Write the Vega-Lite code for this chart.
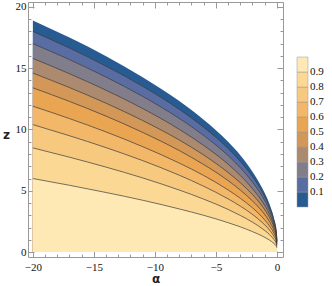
{
  "$schema": "https://vega.github.io/schema/vega-lite/v6.json",
  "width": 255,
  "height": 255,
  "autosize": "none",
  "padding": {"left": 28, "top": 2, "right": 49, "bottom": 29},
  "background": "white",
  "config": {
    "view": {"stroke": "#999999", "strokeWidth": 1},
    "axis": {"domain": false, "grid": false, "labelFont": "Liberation Serif", "labelFontSize": 11, "labelColor": "#111111", "tickColor": "#999999", "titleFont": "DejaVu Sans", "titleFontSize": 12, "titleFontWeight": "bold", "titleColor": "#222222"}
  },
  "resolve": {"axis": {"x": "independent", "y": "independent"}},
  "data": {"values": [
    {"a":-20,"k":0,"z":18.9},{"a":-17,"k":0,"z":17.5},{"a":-14,"k":0,"z":15.98},{"a":-11,"k":0,"z":14.27},{"a":-8,"k":0,"z":12.32},{"a":-6,"k":0,"z":10.8},{"a":-4,"k":0,"z":9.0},{"a":-3,"k":0,"z":7.9},{"a":-2,"k":0,"z":6.55},{"a":-1.2,"k":0,"z":5.2},{"a":-0.6,"k":0,"z":3.9},{"a":-0.25,"k":0,"z":2.8},{"a":-0.05,"k":0,"z":1.8},{"a":0,"k":0,"z":1.0},
    {"a":-20,"k":0.1,"z":18.0},{"a":-17,"k":0.1,"z":16.64},{"a":-14,"k":0.1,"z":15.16},{"a":-11,"k":0.1,"z":13.52},{"a":-8,"k":0.1,"z":11.64},{"a":-6,"k":0.1,"z":10.18},{"a":-4,"k":0.1,"z":8.45},{"a":-3,"k":0.1,"z":7.4},{"a":-2,"k":0.1,"z":6.15},{"a":-1.2,"k":0.1,"z":4.9},{"a":-0.6,"k":0.1,"z":3.65},{"a":-0.25,"k":0.1,"z":2.62},{"a":-0.05,"k":0.1,"z":1.67},{"a":0,"k":0.1,"z":0.95},
    {"a":-20,"k":0.2,"z":17.0},{"a":-17,"k":0.2,"z":15.7},{"a":-14,"k":0.2,"z":14.27},{"a":-11,"k":0.2,"z":12.7},{"a":-8,"k":0.2,"z":10.9},{"a":-6,"k":0.2,"z":9.51},{"a":-4,"k":0.2,"z":7.87},{"a":-3,"k":0.2,"z":6.88},{"a":-2,"k":0.2,"z":5.7},{"a":-1.2,"k":0.2,"z":4.55},{"a":-0.6,"k":0.2,"z":3.4},{"a":-0.25,"k":0.2,"z":2.45},{"a":-0.05,"k":0.2,"z":1.56},{"a":0,"k":0.2,"z":0.9},
    {"a":-20,"k":0.3,"z":15.8},{"a":-17,"k":0.3,"z":14.55},{"a":-14,"k":0.3,"z":13.2},{"a":-11,"k":0.3,"z":11.71},{"a":-8,"k":0.3,"z":10.01},{"a":-6,"k":0.3,"z":8.7},{"a":-4,"k":0.3,"z":7.17},{"a":-3,"k":0.3,"z":6.25},{"a":-2,"k":0.3,"z":5.17},{"a":-1.2,"k":0.3,"z":4.12},{"a":-0.6,"k":0.3,"z":3.08},{"a":-0.25,"k":0.3,"z":2.22},{"a":-0.05,"k":0.3,"z":1.43},{"a":0,"k":0.3,"z":0.85},
    {"a":-20,"k":0.4,"z":14.6},{"a":-17,"k":0.4,"z":13.42},{"a":-14,"k":0.4,"z":12.14},{"a":-11,"k":0.4,"z":10.73},{"a":-8,"k":0.4,"z":9.14},{"a":-6,"k":0.4,"z":7.92},{"a":-4,"k":0.4,"z":6.49},{"a":-3,"k":0.4,"z":5.66},{"a":-2,"k":0.4,"z":4.69},{"a":-1.2,"k":0.4,"z":3.74},{"a":-0.6,"k":0.4,"z":2.81},{"a":-0.25,"k":0.4,"z":2.04},{"a":-0.05,"k":0.4,"z":1.31},{"a":0,"k":0.4,"z":0.8},
    {"a":-20,"k":0.5,"z":13.4},{"a":-17,"k":0.5,"z":12.29},{"a":-14,"k":0.5,"z":11.09},{"a":-11,"k":0.5,"z":9.76},{"a":-8,"k":0.5,"z":8.28},{"a":-6,"k":0.5,"z":7.14},{"a":-4,"k":0.5,"z":5.83},{"a":-3,"k":0.5,"z":5.06},{"a":-2,"k":0.5,"z":4.17},{"a":-1.2,"k":0.5,"z":3.31},{"a":-0.6,"k":0.5,"z":2.47},{"a":-0.25,"k":0.5,"z":1.79},{"a":-0.05,"k":0.5,"z":1.15},{"a":0,"k":0.5,"z":0.72},
    {"a":-20,"k":0.6,"z":11.9},{"a":-17,"k":0.6,"z":10.89},{"a":-14,"k":0.6,"z":9.8},{"a":-11,"k":0.6,"z":8.6},{"a":-8,"k":0.6,"z":7.26},{"a":-6,"k":0.6,"z":6.25},{"a":-4,"k":0.6,"z":5.07},{"a":-3,"k":0.6,"z":4.39},{"a":-2,"k":0.6,"z":3.61},{"a":-1.2,"k":0.6,"z":2.85},{"a":-0.6,"k":0.6,"z":2.12},{"a":-0.25,"k":0.6,"z":1.54},{"a":-0.05,"k":0.6,"z":1.0},{"a":0,"k":0.6,"z":0.65},
    {"a":-20,"k":0.7,"z":10.4},{"a":-17,"k":0.7,"z":9.49},{"a":-14,"k":0.7,"z":8.52},{"a":-11,"k":0.7,"z":7.46},{"a":-8,"k":0.7,"z":6.27},{"a":-6,"k":0.7,"z":5.37},{"a":-4,"k":0.7,"z":4.34},{"a":-3,"k":0.7,"z":3.75},{"a":-2,"k":0.7,"z":3.07},{"a":-1.2,"k":0.7,"z":2.41},{"a":-0.6,"k":0.7,"z":1.79},{"a":-0.25,"k":0.7,"z":1.29},{"a":-0.05,"k":0.7,"z":0.85},{"a":0,"k":0.7,"z":0.57},
    {"a":-20,"k":0.8,"z":8.5},{"a":-17,"k":0.8,"z":7.74},{"a":-14,"k":0.8,"z":6.93},{"a":-11,"k":0.8,"z":6.05},{"a":-8,"k":0.8,"z":5.06},{"a":-6,"k":0.8,"z":4.32},{"a":-4,"k":0.8,"z":3.48},{"a":-3,"k":0.8,"z":2.99},{"a":-2,"k":0.8,"z":2.44},{"a":-1.2,"k":0.8,"z":1.91},{"a":-0.6,"k":0.8,"z":1.42},{"a":-0.25,"k":0.8,"z":1.02},{"a":-0.05,"k":0.8,"z":0.68},{"a":0,"k":0.8,"z":0.47},
    {"a":-20,"k":0.9,"z":6.0},{"a":-17,"k":0.9,"z":5.45},{"a":-14,"k":0.9,"z":4.86},{"a":-11,"k":0.9,"z":4.23},{"a":-8,"k":0.9,"z":3.52},{"a":-6,"k":0.9,"z":3.0},{"a":-4,"k":0.9,"z":2.4},{"a":-3,"k":0.9,"z":2.06},{"a":-2,"k":0.9,"z":1.67},{"a":-1.2,"k":0.9,"z":1.31},{"a":-0.6,"k":0.9,"z":0.97},{"a":-0.25,"k":0.9,"z":0.71},{"a":-0.05,"k":0.9,"z":0.48},{"a":0,"k":0.9,"z":0.35}
  ]},
  "encoding": {
    "x": {"field": "a", "type": "quantitative", "scale": {"domain": [-20.4, 0.5], "nice": false, "zero": false}, "axis": null},
    "y": {"field": "z", "type": "quantitative", "scale": {"domain": [-0.4, 20.4], "nice": false, "zero": false}, "axis": null},
    "color": {"field": "k", "type": "quantitative",
      "scale": {"type": "threshold", "domain": [0.1,0.2,0.3,0.4,0.5,0.6,0.7,0.8,0.9],
        "range": ["#275b92","#5a6da3","#827d8a","#ac8a70","#d39757","#eaa552","#f2b768","#f7c97f","#fbd995","#fee9b5"]},
      "legend": {"type": "gradient", "title": null, "orient": "none", "legendX": 269, "legendY": 55, "direction": "vertical",
        "gradientLength": 150, "gradientThickness": 11, "labelFont": "Liberation Serif", "labelFontSize": 11, "labelColor": "#111111",
        "gradientStrokeColor": "#999999", "gradientStrokeWidth": 0.5}}
  },
  "layer": [
    {"transform": [{"filter": "datum.k == 0"}], "mark": {"type": "area", "interpolate": "monotone"},
      "encoding": {
        "y2": {"datum": 0},
        "x": {"field": "a", "type": "quantitative", "title": "α",
          "scale": {"domain": [-20.4, 0.5], "nice": false, "zero": false},
          "axis": {"orient": "bottom", "values": [-20,-19,-18,-17,-16,-15,-14,-13,-12,-11,-10,-9,-8,-7,-6,-5,-4,-3,-2,-1,0],
            "labelExpr": "datum.value % 5 === 0 ? datum.label : ''",
            "tickSize": {"condition": {"test": "datum.value % 5 === 0", "value": -6}, "value": -3},
            "labelPadding": 10, "titleBaseline": "middle", "titleY": 21}},
        "y": {"field": "z", "type": "quantitative", "title": "z",
          "scale": {"domain": [-0.4, 20.4], "nice": false, "zero": false},
          "axis": {"orient": "left", "values": [0,1,2,3,4,5,6,7,8,9,10,11,12,13,14,15,16,17,18,19,20],
            "labelExpr": "datum.value % 5 === 0 ? datum.label : ''",
            "tickSize": {"condition": {"test": "datum.value % 5 === 0", "value": -6}, "value": -3},
            "labelPadding": 8, "titleAngle": 0, "titleAlign": "center", "titleBaseline": "middle", "titleX": -22, "titleY": 132}}
      }},
    {"transform": [{"filter": "datum.k == 0.1"}], "mark": {"type": "area", "interpolate": "monotone"}, "encoding": {"y2": {"datum": 0}}},
    {"transform": [{"filter": "datum.k == 0.2"}], "mark": {"type": "area", "interpolate": "monotone"}, "encoding": {"y2": {"datum": 0}}},
    {"transform": [{"filter": "datum.k == 0.3"}], "mark": {"type": "area", "interpolate": "monotone"}, "encoding": {"y2": {"datum": 0}}},
    {"transform": [{"filter": "datum.k == 0.4"}], "mark": {"type": "area", "interpolate": "monotone"}, "encoding": {"y2": {"datum": 0}}},
    {"transform": [{"filter": "datum.k == 0.5"}], "mark": {"type": "area", "interpolate": "monotone"}, "encoding": {"y2": {"datum": 0}}},
    {"transform": [{"filter": "datum.k == 0.6"}], "mark": {"type": "area", "interpolate": "monotone"}, "encoding": {"y2": {"datum": 0}}},
    {"transform": [{"filter": "datum.k == 0.7"}], "mark": {"type": "area", "interpolate": "monotone"}, "encoding": {"y2": {"datum": 0}}},
    {"transform": [{"filter": "datum.k == 0.8"}], "mark": {"type": "area", "interpolate": "monotone"}, "encoding": {"y2": {"datum": 0}}},
    {"transform": [{"filter": "datum.k == 0.9"}], "mark": {"type": "area", "interpolate": "monotone"}, "encoding": {"y2": {"datum": 0}}},
    {"transform": [{"filter": "datum.k > 0"}], "mark": {"type": "line", "interpolate": "monotone", "strokeWidth": 1, "opacity": 0.7},
      "encoding": {
        "color": {"value": "#3a3a3a"},
        "detail": {"field": "k", "type": "nominal"},
        "x": {"field": "a", "type": "quantitative",
          "scale": {"domain": [-20.4, 0.5], "nice": false, "zero": false},
          "axis": {"orient": "top", "title": null, "labels": false, "values": [-20,-19,-18,-17,-16,-15,-14,-13,-12,-11,-10,-9,-8,-7,-6,-5,-4,-3,-2,-1,0],
            "tickSize": {"condition": {"test": "datum.value % 5 === 0", "value": -6}, "value": -3}}},
        "y": {"field": "z", "type": "quantitative",
          "scale": {"domain": [-0.4, 20.4], "nice": false, "zero": false},
          "axis": {"orient": "right", "title": null, "labels": false, "values": [0,1,2,3,4,5,6,7,8,9,10,11,12,13,14,15,16,17,18,19,20],
            "tickSize": {"condition": {"test": "datum.value % 5 === 0", "value": -6}, "value": -3}}}
      }}
  ]
}
